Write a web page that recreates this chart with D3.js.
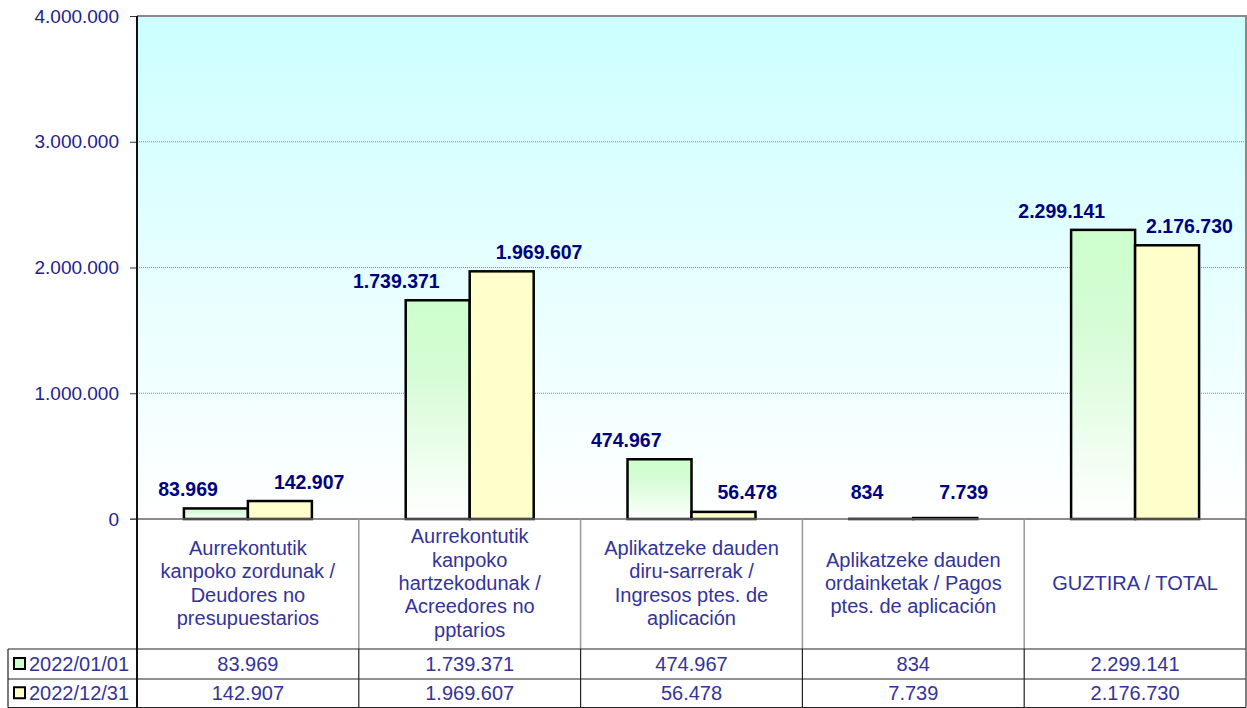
<!DOCTYPE html>
<html>
<head>
<meta charset="utf-8">
<script src="https://cdn.jsdelivr.net/npm/d3@7/dist/d3.min.js"></script>
<style>
  body { margin: 0; background: #fff; }
  svg { display: block; font-family: Arial, "Liberation Sans", sans-serif; }
</style>
</head>
<body>
<script>
// DATA
var categories = [
    ["Aurrekontutik", "kanpoko zordunak /", "Deudores no", "presupuestarios"],
    ["Aurrekontutik", "kanpoko", "hartzekodunak /", "Acreedores no", "pptarios"],
    ["Aplikatzeke dauden", "diru-sarrerak /", "Ingresos ptes. de", "aplicación"],
    ["Aplikatzeke dauden", "ordainketak / Pagos", "ptes. de aplicación"],
    ["GUZTIRA / TOTAL"]
];
var seriesNames = ["2022/01/01", "2022/12/31"];
var values2022_01_01 = [83969, 1739371, 474967, 834, 2299141];
var values2022_12_31 = [142907, 1969607, 56478, 7739, 2176730];
var yTicks = [0, 1000000, 2000000, 3000000, 4000000];

// FUNCTIONS
var w = 1247, h = 708;
var plotLeft = 137, plotRight = 1246, plotTop = 16, base = 519;
var labelBottom = 649, rowMid = 679, tableBottom = 707.5, tableLeft = 8;

var locale = d3.formatLocale({decimal: ",", thousands: ".", grouping: [3], currency: ["", ""]});
var fmt = locale.format(",d");

var series = [
    {name: seriesNames[0], values: values2022_01_01, fill: "url(#greenGrad)", swatch: "#ccffcc"},
    {name: seriesNames[1], values: values2022_12_31, fill: "#ffffcc", swatch: "#ffffcc"}
];

var x = d3.scaleBand().domain(d3.range(categories.length)).range([plotLeft, plotRight]);
var xs = d3.scaleBand().domain([0, 1]).range([0, x.bandwidth()]).paddingOuter(0.733);
var y = d3.scaleLinear().domain([0, 4000000]).range([base, plotTop]);

var svg = d3.select("body")
    .append("svg")
    .attr("width", w)
    .attr("height", h);

var defs = svg.append("defs");
var bg = defs.append("linearGradient").attr("id", "bgGrad")
    .attr("x1", 0).attr("y1", 0).attr("x2", 0).attr("y2", 1);
bg.append("stop").attr("offset", "0%").attr("stop-color", "#ccffff");
bg.append("stop").attr("offset", "100%").attr("stop-color", "#ffffff");
var gg = defs.append("linearGradient").attr("id", "greenGrad")
    .attr("x1", 0).attr("y1", 0).attr("x2", 0).attr("y2", 1);
gg.append("stop").attr("offset", "0%").attr("stop-color", "#ccffcc");
gg.append("stop").attr("offset", "35%").attr("stop-color", "#d6fcd6");
gg.append("stop").attr("offset", "100%").attr("stop-color", "#ffffff");

// plot background
svg.append("rect")
    .attr("x", plotLeft).attr("y", plotTop)
    .attr("width", plotRight - plotLeft).attr("height", base - plotTop)
    .attr("fill", "url(#bgGrad)");

// gridlines
svg.selectAll("line.grid")
    .data(yTicks.slice(1, -1))
    .enter()
    .append("line")
    .attr("class", "grid")
    .attr("x1", plotLeft).attr("x2", plotRight)
    .attr("y1", function(d) { return y(d); })
    .attr("y2", function(d) { return y(d); })
    .attr("stroke", "#888")
    .attr("stroke-width", 1)
    .attr("stroke-dasharray", "1,1");

// top and right border
svg.append("path")
    .attr("d", "M" + plotLeft + "," + plotTop + "H" + plotRight + "V" + base)
    .attr("fill", "none")
    .attr("stroke", "#888")
    .attr("stroke-width", 2);

// y axis
var yAxis = d3.axisLeft(y).tickValues(yTicks).tickFormat(fmt).tickSize(7).tickPadding(11);
var ga = svg.append("g").attr("transform", "translate(" + plotLeft + ",0)").call(yAxis);
ga.select(".domain").remove();
ga.selectAll(".tick line").attr("stroke", "#333");
ga.selectAll(".tick text")
    .attr("font-size", "19px")
    .attr("font-family", "Arial, 'Liberation Sans', sans-serif")
    .attr("fill", "#22228c");

// bars
var groups = svg.selectAll("g.cat")
    .data(d3.range(categories.length))
    .enter()
    .append("g")
    .attr("class", "cat")
    .attr("transform", function(i) { return "translate(" + x(i) + ",0)"; });

series.forEach(function(s, si) {
    groups.append("rect")
        .attr("x", xs(si))
        .attr("width", xs.bandwidth())
        .attr("y", function(i) { return y(s.values[i]); })
        .attr("height", function(i) { return base - y(s.values[i]); })
        .attr("fill", s.fill)
        .attr("stroke", "#000")
        .attr("stroke-width", 2.5);
});

// horizontal axis line
svg.append("line")
    .attr("x1", plotLeft - 7).attr("x2", plotRight)
    .attr("y1", base).attr("y2", base)
    .attr("stroke", "#666").attr("stroke-width", 1.5);

// data labels (kept inside the plot area)
series.forEach(function(s, si) {
    groups.append("text")
        .text(function(i) { return fmt(s.values[i]); })
        .attr("x", function(i) { return si === 0 ? xs(0) + xs.bandwidth() / 2 + 2 : xs(1) + xs.bandwidth() / 2 - 6; })
        .attr("y", function(i) { return Math.min(y(s.values[i]) - 12, base - 20); })
        .attr("text-anchor", si === 0 ? "end" : "start")
        .attr("font-size", "19.5px")
        .attr("font-weight", "bold")
        .attr("fill", "#000080")
        .each(function(i) {
            var b = this.getBBox();
            var over = x(i) + b.x + b.width - (plotRight - 13);
            if (over > 0) d3.select(this).attr("x", +d3.select(this).attr("x") - over);
        });
});

// category labels area
var lineH = 23.3;
groups.append("text")
    .attr("text-anchor", "middle")
    .attr("font-size", "20px")
    .attr("fill", "#33339a")
    .each(function(i) {
        var lines = categories[i];
        var t = d3.select(this);
        var y0 = (base + labelBottom) / 2 - (lines.length - 1) * lineH / 2 + 6;
        lines.forEach(function(l, k) {
            t.append("tspan")
                .attr("x", x.bandwidth() / 2)
                .attr("y", y0 + k * lineH)
                .text(l);
        });
    });

// category separators
svg.selectAll("line.sep")
    .data(d3.range(1, categories.length))
    .enter()
    .append("line")
    .attr("class", "sep")
    .attr("x1", function(i) { return x(i); })
    .attr("x2", function(i) { return x(i); })
    .attr("y1", base).attr("y2", labelBottom)
    .attr("stroke", "#999").attr("stroke-width", 1.5);

// table
var rowTops = [labelBottom, rowMid];
var rowH = [rowMid - labelBottom, tableBottom - rowMid];

series.forEach(function(s, si) {
    var cy = rowTops[si] + rowH[si] / 2;
    svg.append("rect")
        .attr("x", 14).attr("y", cy - 6)
        .attr("width", 11).attr("height", 11)
        .attr("fill", s.swatch)
        .attr("stroke", "#000").attr("stroke-width", 2);
    svg.append("text")
        .attr("x", 29).attr("y", cy + 7)
        .attr("font-size", "20px")
        .attr("fill", "#33339a")
        .text(s.name);
    svg.selectAll(null)
        .data(d3.range(categories.length))
        .enter()
        .append("text")
        .attr("x", function(i) { return x(i) + x.bandwidth() / 2; })
        .attr("y", cy + 7)
        .attr("text-anchor", "middle")
        .attr("font-size", "20px")
        .attr("fill", "#33339a")
        .text(function(i) { return fmt(s.values[i]); });
});

// table grid
[labelBottom, rowMid, tableBottom].forEach(function(yy) {
    svg.append("line")
        .attr("x1", tableLeft).attr("x2", plotRight)
        .attr("y1", yy).attr("y2", yy)
        .attr("stroke", "#222").attr("stroke-width", 1.2);
});
d3.range(1, categories.length).forEach(function(i) {
    svg.append("line")
        .attr("x1", x(i)).attr("x2", x(i))
        .attr("y1", labelBottom).attr("y2", tableBottom)
        .attr("stroke", "#222").attr("stroke-width", 1.2);
});
svg.append("line")
    .attr("x1", tableLeft).attr("x2", tableLeft)
    .attr("y1", labelBottom).attr("y2", tableBottom)
    .attr("stroke", "#222").attr("stroke-width", 1.2);
svg.append("line")
    .attr("x1", plotRight).attr("x2", plotRight)
    .attr("y1", base).attr("y2", tableBottom)
    .attr("stroke", "#555").attr("stroke-width", 1.5);

// left axis line
svg.append("line")
    .attr("x1", plotLeft).attr("x2", plotLeft)
    .attr("y1", plotTop).attr("y2", tableBottom)
    .attr("stroke", "#111").attr("stroke-width", 2);
</script>
</body>
</html>
